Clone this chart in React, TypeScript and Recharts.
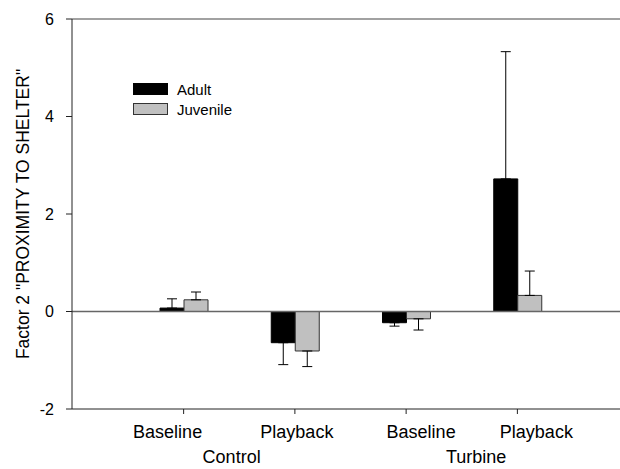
import React from "react";
import {
  BarChart,
  Bar,
  XAxis,
  YAxis,
  ReferenceLine,
  ErrorBar,
} from "recharts";

// mean +/- one-sided error per condition
const categories = ["Baseline", "Playback", "Baseline", "Playback"];
const groups = ["Control", "Control", "Turbine", "Turbine"];
const adultMean = [0.07, -0.64, -0.23, 2.72];
const adultErr = [0.19, 0.45, 0.07, 2.61];
const juvenileMean = [0.24, -0.81, -0.15, 0.33];
const juvenileErr = [0.16, 0.32, 0.23, 0.5];
const yTicks = [-2, 0, 2, 4, 6];

const FONT = '"Liberation Sans", Arial, sans-serif';

// label placement in the original is hand-set, not centred on the ticks
const labelShift = [-16, 2, 15, 19];
const groupShift: Record<number, number> = { 0: 48, 2: 70 };

// one-sided error bars: away from zero
const oneSided = (v: number, e: number) => (v >= 0 ? [0, e] : [e, 0]);

const data = categories.map((c, i) => ({
  key: `${groups[i]}-${c}`,
  adult: adultMean[i],
  adultErr: oneSided(adultMean[i], adultErr[i]),
  juvenile: juvenileMean[i],
  juvenileErr: oneSided(juvenileMean[i], juvenileErr[i]),
}));

const series = [
  { name: "Adult", fill: "#000000", stroke: "#000000" },
  { name: "Juvenile", fill: "#c0c0c0", stroke: "#333333" },
];

const XTick = (props: any) => {
  const { x, payload } = props;
  const i = payload.index;
  return (
    <g>
      <text
        x={x + labelShift[i]}
        y={438}
        textAnchor="middle"
        fontSize={18}
        fontFamily={FONT}
        fill="#000"
      >
        {categories[i]}
      </text>
      {groupShift[i] !== undefined && (
        <text
          x={x + groupShift[i]}
          y={463}
          textAnchor="middle"
          fontSize={18}
          fontFamily={FONT}
          fill="#000"
        >
          {groups[i]}
        </text>
      )}
    </g>
  );
};

export default function App() {
  return (
    <div style={{ position: "absolute", left: 0, top: 0, width: 620, height: 469, background: "#fff" }}>
      <BarChart
        width={620}
        height={469}
        data={data}
        margin={{ top: 19, right: 0, left: 0, bottom: 0 }}
        barGap={0}
        barSize={24}
      >
        <XAxis
          dataKey="key"
          height={60}
          padding={{ left: 56, right: 47 }}
          axisLine={{ stroke: "#222" }}
          tickLine={{ stroke: "#222" }}
          tickSize={5}
          interval={0}
          tick={<XTick />}
        />
        <YAxis
          type="number"
          domain={[-2, 6]}
          ticks={yTicks}
          width={72}
          axisLine={{ stroke: "#222" }}
          tickLine={{ stroke: "#222" }}
          tickSize={6}
          tickMargin={12}
          tick={{ fontSize: 16, fontFamily: FONT, fill: "#000" }}
          label={{
            value: 'Factor 2 "PROXIMITY TO SHELTER"',
            angle: -90,
            position: "insideLeft",
            dx: 18,
            dy: 0,
            style: { fontSize: 17.5, fontFamily: FONT, fill: "#000", textAnchor: "middle" },
          }}
        />
        <ReferenceLine y={6} stroke="#444" strokeWidth={1.2} />
        <ReferenceLine y={0} stroke="#666" strokeWidth={1.5} />
        <Bar dataKey="adult" name="Adult" fill="#000" stroke="#000" isAnimationActive={false}>
          <ErrorBar dataKey="adultErr" width={5} stroke="#000" strokeWidth={1} direction="y" />
        </Bar>
        <Bar dataKey="juvenile" name="Juvenile" fill="#c0c0c0" stroke="#333" strokeWidth={1} isAnimationActive={false}>
          <ErrorBar dataKey="juvenileErr" width={5} stroke="#000" strokeWidth={1} direction="y" />
        </Bar>
      </BarChart>
      <div style={{ position: "absolute", left: 133, top: 79, fontFamily: FONT, fontSize: 15, color: "#000" }}>
        {series.map((s) => (
          <div key={s.name} style={{ display: "flex", alignItems: "center", height: 20 }}>
            <span
              style={{
                display: "inline-block",
                width: 33,
                height: 10,
                background: s.fill,
                border: `1px solid ${s.stroke}`,
                marginRight: 9,
              }}
            />
            <span>{s.name}</span>
          </div>
        ))}
      </div>
    </div>
  );
}
